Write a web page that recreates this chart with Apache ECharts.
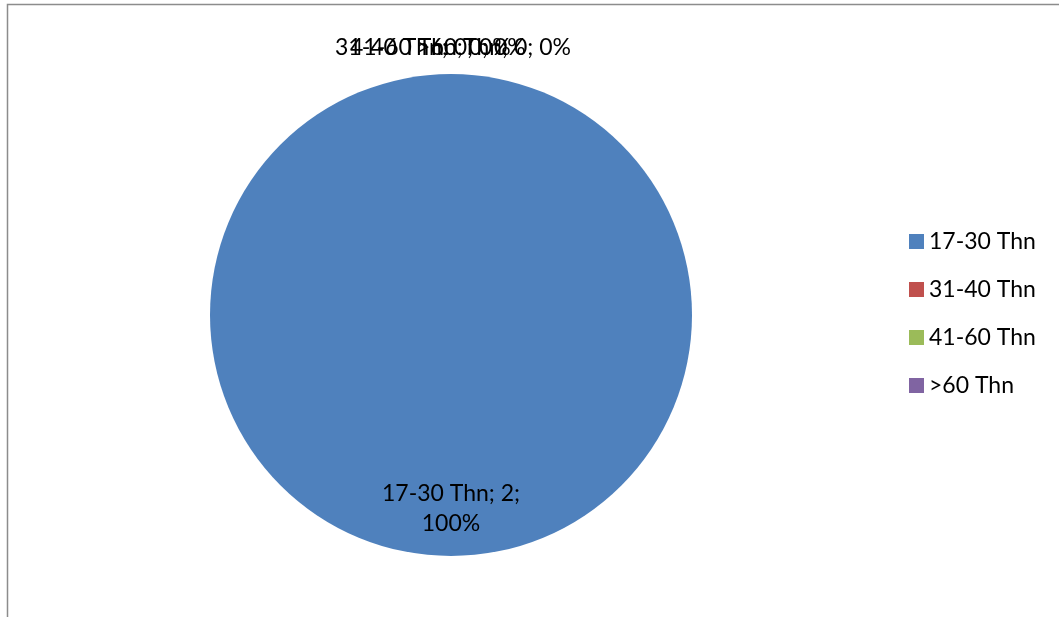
<!DOCTYPE html>
<html>
<head>
<meta charset="utf-8">
<script src="https://cdn.jsdelivr.net/npm/echarts@6/dist/echarts.min.js"></script>
<style>
  html, body { margin: 0; padding: 0; background: #fff; }
  #chart { width: 1059px; height: 617px; }
</style>
</head>
<body>
<div id="chart"></div>
<script>
// Age groups and respondent counts
const categories = ['17-30 Thn', '31-40 Thn', '41-60 Thn', '>60 Thn'];
const counts = [2, 0, 0, 0];
const colors = ['#4F81BD', '#C0504D', '#9BBB59', '#8064A2'];

const FONT = 'Lato, "Open Sans", sans-serif';
const FONT_SIZE = 23;

// Empty slices stack their labels above the pie, slightly staggered
const zeroLabelPos = {
  1: { x: 335, align: 'left' },
  2: { x: 350, align: 'left' },
  3: { x: 571, align: 'right' }
};

const pieData = categories.map((name, i) => {
  const item = { name: name, value: counts[i], itemStyle: { color: colors[i] } };
  if (counts[i] > 0) {
    item.label = {
      position: 'inside',
      formatter: '{b}; {c};\n{d}%',
      offset: [0, 70],
      lineHeight: 30
    };
  } else {
    item.label = {
      position: 'outside',
      formatter: '{b}; {c}; {d}%'
    };
  }
  return item;
});

const chart = echarts.init(document.getElementById('chart'), null, { renderer: 'canvas' });
chart.setOption({
  animation: false,
  backgroundColor: '#ffffff',
  graphic: [{
    type: 'rect',
    shape: { x: 7.5, y: 4.5, width: 1200, height: 800 },
    style: { fill: 'none', stroke: '#8c8c8c', lineWidth: 1.5 },
    silent: true
  }],
  legend: {
    orient: 'vertical',
    left: 904,
    top: 225,
    itemWidth: 15,
    itemHeight: 15,
    itemGap: 25,
    icon: 'rect',
    textStyle: { fontFamily: FONT, fontSize: FONT_SIZE, color: '#000' },
    data: categories
  },
  series: [{
    type: 'pie',
    center: [451, 315],
    radius: 241,
    startAngle: 90,
    clockwise: true,
    avoidLabelOverlap: false,
    minShowLabelAngle: 0,
    label: {
      show: true,
      fontFamily: FONT,
      fontSize: FONT_SIZE,
      color: '#000'
    },
    labelLine: { show: false, length: 27, length2: 0 },
    labelLayout: function (params) {
      const p = zeroLabelPos[params.dataIndex];
      if (!p) return {};
      return { x: p.x, y: 48, align: p.align, verticalAlign: 'middle', hideOverlap: false };
    },
    emphasis: { disabled: true },
    data: pieData
  }]
});
</script>
</body>
</html>
